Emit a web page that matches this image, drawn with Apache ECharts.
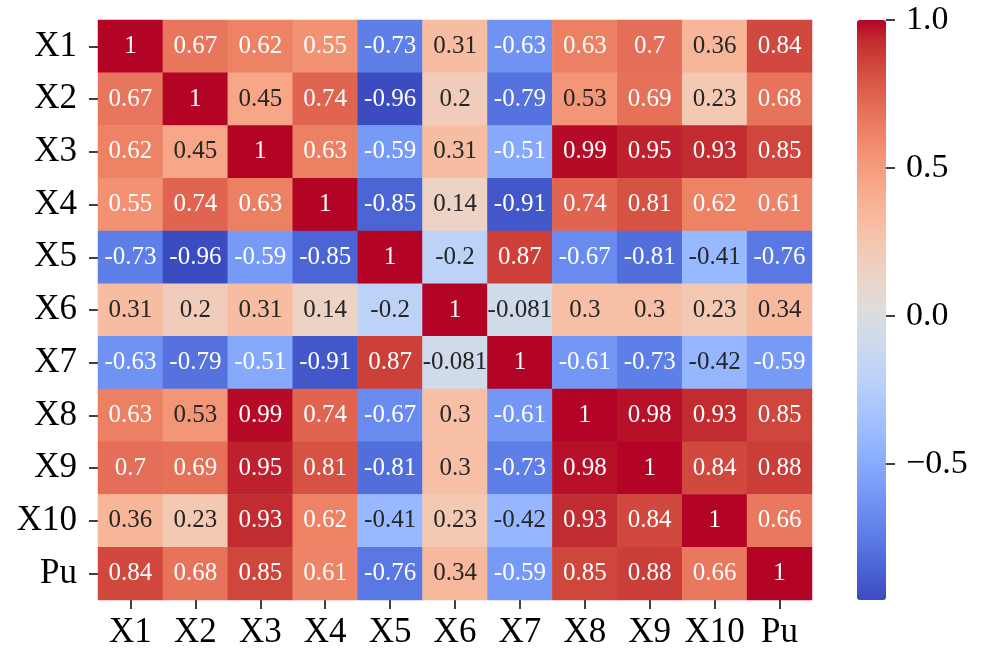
<!DOCTYPE html>
<html>
<head>
<meta charset="utf-8">
<style>
  html, body { margin: 0; padding: 0; background: #ffffff; }
  #chart { width: 985px; height: 651px; }
</style>
<script src="https://cdn.jsdelivr.net/npm/echarts@6/dist/echarts.min.js"></script>
</head>
<body>
<div id="chart"></div>
<script>
// Variable names, shared by both axes
const names = ['X1', 'X2', 'X3', 'X4', 'X5', 'X6', 'X7', 'X8', 'X9', 'X10', 'Pu'];

// Correlation coefficients, one row per variable
const rowX1  = [1, 0.67, 0.62, 0.55, -0.73, 0.31, -0.63, 0.63, 0.7, 0.36, 0.84];
const rowX2  = [0.67, 1, 0.45, 0.74, -0.96, 0.2, -0.79, 0.53, 0.69, 0.23, 0.68];
const rowX3  = [0.62, 0.45, 1, 0.63, -0.59, 0.31, -0.51, 0.99, 0.95, 0.93, 0.85];
const rowX4  = [0.55, 0.74, 0.63, 1, -0.85, 0.14, -0.91, 0.74, 0.81, 0.62, 0.61];
const rowX5  = [-0.73, -0.96, -0.59, -0.85, 1, -0.2, 0.87, -0.67, -0.81, -0.41, -0.76];
const rowX6  = [0.31, 0.2, 0.31, 0.14, -0.2, 1, -0.081, 0.3, 0.3, 0.23, 0.34];
const rowX7  = [-0.63, -0.79, -0.51, -0.91, 0.87, -0.081, 1, -0.61, -0.73, -0.42, -0.59];
const rowX8  = [0.63, 0.53, 0.99, 0.74, -0.67, 0.3, -0.61, 1, 0.98, 0.93, 0.85];
const rowX9  = [0.7, 0.69, 0.95, 0.81, -0.81, 0.3, -0.73, 0.98, 1, 0.84, 0.88];
const rowX10 = [0.36, 0.23, 0.93, 0.62, -0.41, 0.23, -0.42, 0.93, 0.84, 1, 0.66];
const rowPu  = [0.84, 0.68, 0.85, 0.61, -0.76, 0.34, -0.59, 0.85, 0.88, 0.66, 1];

// Colour bar range and tick labels
const colorMin = -0.96;
const colorMax = 1.0;
const colorTicks = [-0.5, 0.0, 0.5, 1.0];

const rows = [rowX1, rowX2, rowX3, rowX4, rowX5, rowX6, rowX7, rowX8, rowX9, rowX10, rowPu];

// Diverging cool-warm colour map (evenly spaced stops)
const coolwarm = [
  [59,76,192],[68,90,204],[77,104,215],[87,117,225],[98,130,234],[108,142,241],
  [119,154,247],[130,165,251],[141,176,254],[152,185,255],[163,194,255],[174,201,253],
  [184,208,249],[194,213,244],[204,217,238],[213,219,230],[221,221,221],[229,216,209],
  [236,211,197],[241,204,185],[245,196,173],[247,187,160],[247,177,148],[247,166,135],
  [244,154,123],[241,141,111],[236,127,99],[229,112,88],[222,96,77],[213,80,66],
  [203,62,56],[192,40,47],[180,4,38]
];
const toHex = c => '#' + c.map(v => Math.round(v).toString(16).padStart(2, '0')).join('');

function mapColor(v) {
  let t = (v - colorMin) / (colorMax - colorMin);
  t = Math.max(0, Math.min(1, t));
  const pos = t * (coolwarm.length - 1);
  const i = Math.min(Math.floor(pos), coolwarm.length - 2);
  const f = pos - i;
  return coolwarm[i].map((a, k) => a + (coolwarm[i + 1][k] - a) * f);
}

// Pick dark or white annotation text from the cell's relative luminance
function textColor(v) {
  const lin = mapColor(v).map(c => {
    c /= 255;
    return c <= 0.03928 ? c / 12.92 : Math.pow((c + 0.055) / 1.055, 2.4);
  });
  const lum = 0.2126 * lin[0] + 0.7152 * lin[1] + 0.0722 * lin[2];
  return lum > 0.408 ? '#262626' : '#ffffff';
}

const cells = [];
rows.forEach((row, yi) => {
  row.forEach((v, xi) => {
    cells.push({ value: [xi, yi, v], label: { color: textColor(v) } });
  });
});

const serif = '"Liberation Serif", "DejaVu Serif", serif';
const tickStyle = { color: '#000', width: 1.5 };

const chart = echarts.init(document.getElementById('chart'), null, { renderer: 'canvas' });

chart.setOption({
  backgroundColor: '#ffffff',
  animation: false,
  grid: [
    { left: 98, top: 20, width: 714, height: 580 },
    { left: 857, top: 20, width: 29, height: 580 }
  ],
  xAxis: [
    {
      type: 'category', gridIndex: 0, data: names, position: 'bottom',
      axisLine: { show: false },
      axisTick: { show: true, alignWithLabel: true, interval: 0, length: 9, lineStyle: tickStyle },
      axisLabel: { fontFamily: serif, fontSize: 35, color: '#000', margin: 15, interval: 0 },
      splitLine: { show: false }
    },
    {
      type: 'value', gridIndex: 1, show: false, min: 0, max: 1,
      axisLine: { onZero: false }
    }
  ],
  yAxis: [
    {
      type: 'category', gridIndex: 0, data: names, inverse: true,
      axisLine: { show: false },
      axisTick: { show: true, alignWithLabel: true, interval: 0, length: 9, lineStyle: tickStyle },
      axisLabel: { fontFamily: serif, fontSize: 35, color: '#000', margin: 21, interval: 0 },
      splitLine: { show: false }
    },
    {
      type: 'value', gridIndex: 1, position: 'right', min: colorMin, max: colorMax,
      axisLine: { show: false, onZero: false },
      axisTick: { show: true, length: 9, customValues: colorTicks, lineStyle: tickStyle },
      axisLabel: {
        fontFamily: serif, fontSize: 34, color: '#000', margin: 20,
        customValues: colorTicks,
        formatter: v => (v < 0 ? '\u2212' : '') + Math.abs(v).toFixed(1)
      },
      splitLine: { show: false },
      z: 10
    }
  ],
  visualMap: {
    type: 'continuous',
    seriesIndex: 0,
    min: colorMin,
    max: colorMax,
    calculable: false,
    hoverLink: false,
    orient: 'vertical',
    left: 857,
    top: 20,
    padding: 0,
    itemWidth: 29,
    itemHeight: 580,
    text: null,
    showLabel: false,
    z: 1,
    inRange: { color: coolwarm.map(toHex) }
  },
  series: [
    {
      type: 'heatmap',
      xAxisIndex: 0,
      yAxisIndex: 0,
      data: cells,
      label: {
        show: true,
        fontFamily: serif,
        fontSize: 25,
        formatter: p => String(p.value[2])
      },
      itemStyle: { borderWidth: 0 },
      emphasis: { disabled: true }
    }
  ]
});
</script>
</body>
</html>
